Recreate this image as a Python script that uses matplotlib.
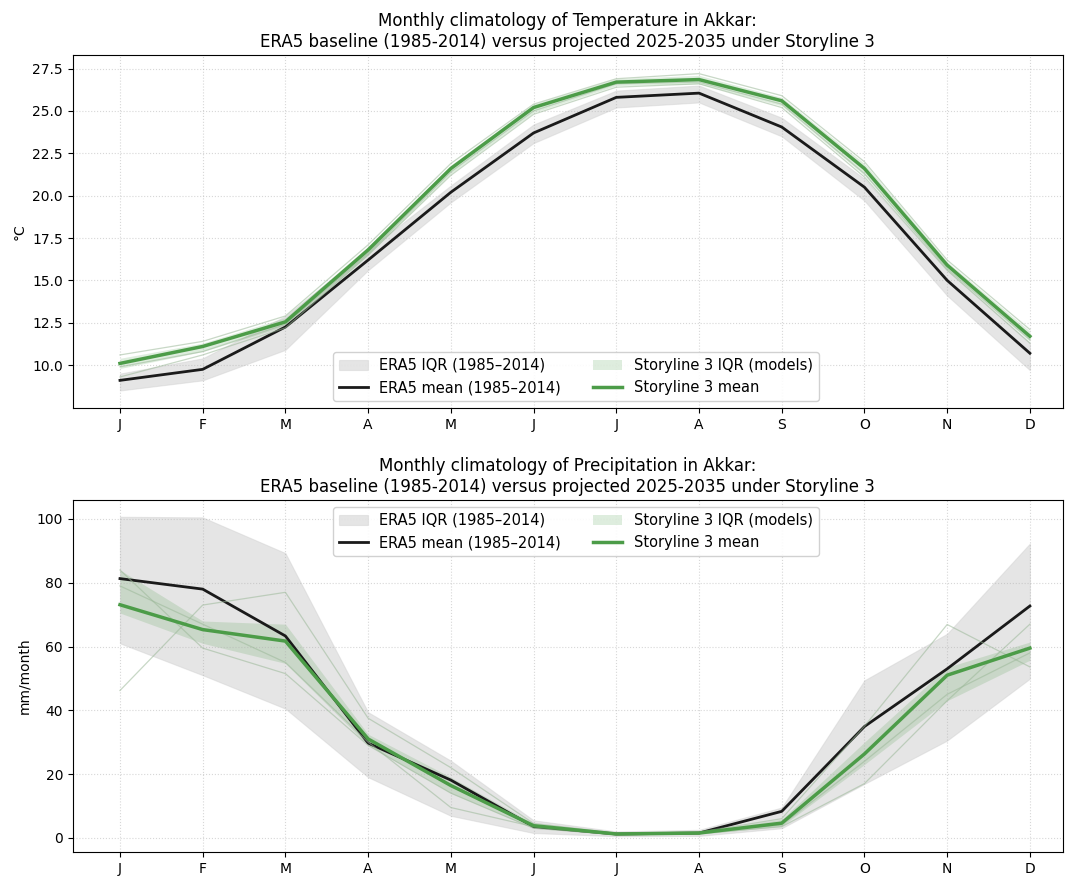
import numpy as np
import matplotlib
matplotlib.use("Agg")
import matplotlib.pyplot as plt

months = ["J", "F", "M", "A", "M", "J", "J", "A", "S", "O", "N", "D"]

# Temperature (°C)
t_era_mean = [9.1, 9.75, 12.25, 16.2, 20.2, 23.7, 25.8, 26.05, 24.05, 20.5, 15.0, 10.7]
t_era_q25 = [8.5, 9.1, 10.9, 15.6, 19.6, 23.1, 25.2, 25.5, 23.5, 19.7, 14.1, 9.7]
t_era_q75 = [9.5, 10.4, 12.9, 16.8, 20.6, 24.2, 26.2, 26.5, 24.6, 21.0, 15.6, 11.3]
t_sl_mean = [10.1, 11.1, 12.55, 16.8, 21.6, 25.2, 26.7, 26.85, 25.6, 21.6, 15.9, 11.7]
t_sl_q25 = [9.8, 10.8, 12.3, 16.5, 21.3, 24.9, 26.5, 26.6, 25.3, 21.2, 15.6, 11.4]
t_sl_q75 = [10.4, 11.3, 12.8, 17.0, 21.8, 25.4, 26.9, 27.1, 25.8, 21.9, 16.1, 12.0]
t_models = [
    [10.6, 11.4, 12.9, 17.1, 21.9, 25.4, 26.9, 27.2, 25.9, 22.0, 16.2, 12.1],
    [9.9, 10.8, 12.4, 16.6, 21.4, 25.0, 26.6, 26.7, 25.4, 21.3, 15.7, 11.5],
    [9.3, 10.6, 12.2, 16.5, 21.2, 24.8, 26.4, 26.6, 25.2, 21.1, 15.6, 11.3],
]

# Precipitation (mm/month)
p_era_mean = [81.3, 78.0, 63.3, 29.7, 18.1, 3.5, 1.2, 1.5, 8.3, 34.9, 53.0, 72.7]
p_era_q25 = [61.0, 51.0, 40.5, 19.0, 6.9, 1.5, 0.5, 0.6, 3.0, 16.9, 30.5, 49.9]
p_era_q75 = [100.7, 100.5, 89.3, 39.4, 24.2, 5.5, 2.0, 2.5, 9.5, 49.4, 64.0, 92.3]
p_sl_mean = [73.1, 65.3, 61.7, 31.0, 16.4, 3.8, 1.2, 1.5, 4.6, 26.3, 51.0, 59.5]
p_sl_q25 = [70.5, 61.0, 54.7, 29.0, 14.0, 3.0, 0.9, 1.1, 3.6, 23.0, 43.0, 55.7]
p_sl_q75 = [84.0, 68.0, 67.0, 32.5, 19.0, 4.5, 1.6, 2.0, 5.8, 30.0, 53.5, 61.4]
p_models = [
    [46.2, 73.0, 77.0, 37.5, 22.0, 4.5, 1.5, 1.8, 6.0, 35.0, 66.9, 53.6],
    [84.0, 59.5, 51.5, 29.0, 14.0, 3.0, 1.0, 1.3, 3.5, 17.0, 43.0, 67.0],
    [79.0, 67.0, 55.0, 30.0, 9.5, 3.5, 1.2, 1.5, 4.0, 24.0, 45.0, 58.0],
]

ERA_GREY = "#bfbfbf"
SL_GREEN = "#4c9c48"

x = np.arange(len(months))

fig = plt.figure(figsize=(10.71, 8.8), dpi=100)
ax1 = fig.add_axes([0.068, 0.536, 0.9245, 0.4015])
ax2 = fig.add_axes([0.068, 0.032, 0.9245, 0.400])


def panel(ax, era_mean, era_q25, era_q75, sl_mean, sl_q25, sl_q75, models, var, unit, loc):
    ax.fill_between(x, era_q25, era_q75, color=ERA_GREY, alpha=0.4, linewidth=0.8,
                    edgecolor="#cccccc", label="ERA5 IQR (1985\u20132014)")
    ax.plot(x, era_mean, color="#1a1a1a", linewidth=2, label="ERA5 mean (1985\u20132014)")
    for m in models:
        ax.plot(x, m, color="#9bb898", linewidth=0.9, alpha=0.55)
    ax.fill_between(x, sl_q25, sl_q75, color=SL_GREEN, alpha=0.18, linewidth=0,
                    label="Storyline 3 IQR (models)")
    ax.plot(x, sl_mean, color=SL_GREEN, linewidth=2.5, label="Storyline 3 mean")
    ax.set_xticks(x)
    ax.set_xticklabels(months)
    ax.set_xlim(-0.57, 11.4)
    ax.set_ylabel(unit)
    ax.set_title(f"Monthly climatology of {var} in Akkar:\n"
                 "ERA5 baseline (1985-2014) versus projected 2025-2035 under Storyline 3",
                 fontsize=12)
    ax.grid(True, linestyle=":", linewidth=0.8, alpha=0.5)
    ax.tick_params(labelsize=10)
    ax.legend(loc=loc, ncol=2, fontsize=10.5, framealpha=0.9, columnspacing=2.2,
              bbox_to_anchor=(0.508, 0.0 if loc.startswith("lower") else 1.0))


panel(ax1, t_era_mean, t_era_q25, t_era_q75, t_sl_mean, t_sl_q25, t_sl_q75,
      t_models, "Temperature", "\u00b0C", "lower center")
panel(ax2, p_era_mean, p_era_q25, p_era_q75, p_sl_mean, p_sl_q25, p_sl_q75,
      p_models, "Precipitation", "mm/month", "upper center")
ax1.set_ylim(7.45, 28.3)
ax1.set_yticks(np.arange(10, 28, 2.5))
ax2.set_ylim(-4.4, 106)

fig.savefig("out.png", dpi=100)
plt.close(fig)
